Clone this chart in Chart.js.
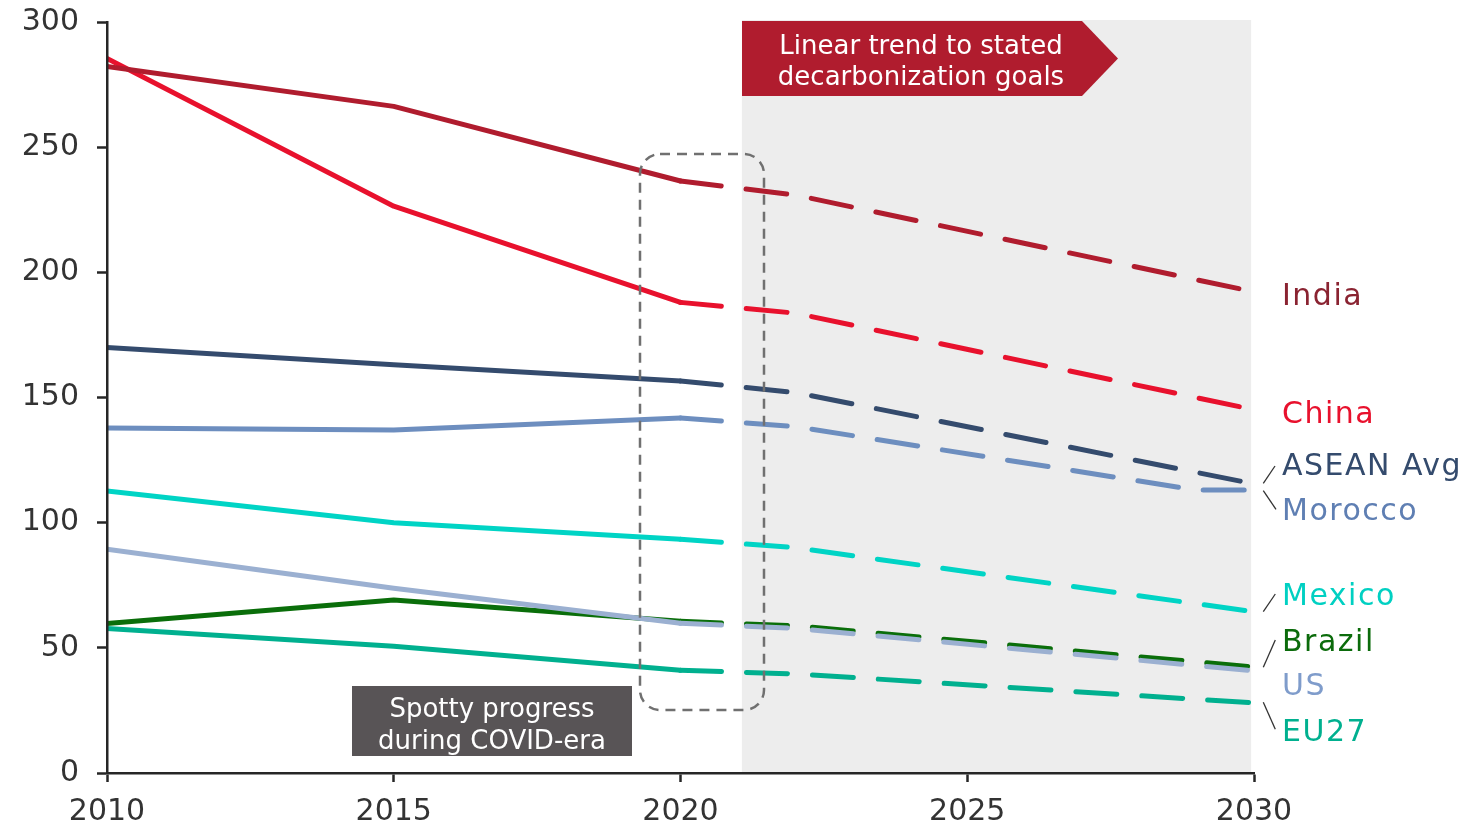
<!DOCTYPE html>
<html>
<head>
<meta charset="utf-8">
<script src="https://cdn.jsdelivr.net/npm/chart.js@4.4.0/dist/chart.umd.min.js"></script>
<style>
  html, body { margin: 0; padding: 0; background: #ffffff; overflow: hidden; }
  #wrap { position: relative; width: 1473px; height: 824px; }
</style>
</head>
<body>
<div id="wrap"><canvas id="c" width="1473" height="824"></canvas></div>
<script>
// Historical years and trend years
const histYears = [2010, 2015, 2020];
const trendYears = [2020, 2022, 2030];
const moroccoTrendYears = [2020, 2022, 2029, 2030];

// Historical values per country
const us = [89.4, 73.8, 59.8];
const brazil = [59.7, 69.1, 60.6];
const eu27 = [57.7, 50.6, 41.0];
const mexico = [112.7, 100.0, 93.4];
const morocco = [137.8, 137.0, 141.8];
const asean = [170.0, 163.1, 156.6];
const india = [282.2, 266.3, 236.5];
const china = [285.4, 226.4, 188.0];

// Linear trend to stated goals
const usTrend = [59.8, 57.8, 40.8];
const brazilTrend = [60.6, 58.8, 42.3];
const eu27Trend = [41.0, 39.6, 28.0];
const mexicoTrend = [93.4, 90.0, 64.4];
const moroccoTrend = [141.8, 138.4, 113.0, 113.0];
const aseanTrend = [156.6, 152.0, 115.5];
const indiaTrend = [236.5, 230.9, 192.2];
const chinaTrend = [188.0, 183.7, 145.1];

// Axis ticks
const xTicks = [2010, 2015, 2020, 2025, 2030];
const yTicks = [0, 50, 100, 150, 200, 250, 300];

const FONT = "'DejaVu Sans', sans-serif";

// Drawn first = on top
const series = [
  { name: 'US',        line: '#9BB0D1', width: 5, hist: us,      trend: usTrend,      tYears: trendYears },
  { name: 'Brazil',    line: '#0A6E0A', width: 5, hist: brazil,  trend: brazilTrend,  tYears: trendYears },
  { name: 'EU27',      line: '#00B08F', width: 5, hist: eu27,    trend: eu27Trend,    tYears: trendYears },
  { name: 'Mexico',    line: '#00D4C5', width: 5, hist: mexico,  trend: mexicoTrend,  tYears: trendYears },
  { name: 'Morocco',   line: '#6D8EBF', width: 5, hist: morocco, trend: moroccoTrend, tYears: moroccoTrendYears },
  { name: 'ASEAN Avg', line: '#344B6D', width: 5, hist: asean,   trend: aseanTrend,   tYears: trendYears },
  { name: 'India',     line: '#B01C2E', width: 5, hist: india,   trend: indiaTrend,   tYears: trendYears },
  { name: 'China',     line: '#E8112D', width: 5, hist: china,   trend: chinaTrend,   tYears: trendYears }
];

const toPoints = (xs, ys) => xs.map((x, i) => ({ x: x, y: ys[i] }));

const datasets = [];
series.forEach(s => {
  datasets.push({
    label: s.name,
    data: toPoints(histYears, s.hist),
    borderColor: s.line,
    borderWidth: s.width,
    borderCapStyle: 'round',
    borderJoinStyle: 'round',
    pointRadius: 0,
    tension: 0,
    fill: false
  });
  datasets.push({
    label: s.name + ' trend',
    data: toPoints(s.tYears, s.trend),
    borderColor: s.line,
    borderWidth: s.width,
    borderDash: [41, 25],
    borderCapStyle: 'round',
    borderJoinStyle: 'round',
    pointRadius: 0,
    tension: 0,
    fill: false
  });
});

// Country labels on the right with small connector strokes
const endLabels = [
  { name: 'India',     color: '#8A2331', x: 1282, y: 305 },
  { name: 'China',     color: '#E8112D', x: 1282, y: 422.5 },
  { name: 'ASEAN Avg', color: '#344B6D', x: 1282, y: 475 },
  { name: 'Morocco',   color: '#5F7FB3', x: 1282, y: 520 },
  { name: 'Mexico',    color: '#00D0C2', x: 1282, y: 605 },
  { name: 'Brazil',    color: '#0B6B0B', x: 1282, y: 650.5 },
  { name: 'US',        color: '#7F9CCB', x: 1282, y: 695 },
  { name: 'EU27',      color: '#00B08F', x: 1282, y: 740.5 }
];
const connectors = [
  [1263.3, 483.3, 1275, 466],
  [1263.3, 490.7, 1276, 509.3],
  [1263.3, 611.7, 1275.3, 594],
  [1263.3, 667.3, 1275.3, 640],
  [1263.3, 702.3, 1275.3, 729.3]
];

const annotations = {
  id: 'annotations',
  beforeDatasetsDraw(chart) {
    const { ctx, chartArea, scales } = chart;
    const xs = scales.x;
    ctx.save();
    // projection period shading
    const x0 = xs.getPixelForValue(2021.07);
    const x1 = xs.getPixelForValue(2029.95);
    ctx.fillStyle = '#EDEDED';
    ctx.fillRect(x0, chartArea.top - 2, x1 - x0, chartArea.bottom - chartArea.top + 2);
    ctx.restore();
  },
  afterDatasetsDraw(chart) {
    const { ctx } = chart;
    ctx.save();

    // dashed frame around the COVID years
    ctx.strokeStyle = '#707070';
    ctx.lineWidth = 2.5;
    ctx.setLineDash([10, 7]);
    ctx.beginPath();
    ctx.roundRect(640, 154, 124, 556, 20);
    ctx.stroke();
    ctx.setLineDash([]);

    // red arrow banner
    ctx.fillStyle = '#B01C2E';
    ctx.beginPath();
    ctx.moveTo(742, 21);
    ctx.lineTo(1082, 21);
    ctx.lineTo(1118, 58.5);
    ctx.lineTo(1082, 96);
    ctx.lineTo(742, 96);
    ctx.closePath();
    ctx.fill();
    ctx.fillStyle = '#FFFFFF';
    ctx.font = '26px ' + FONT;
    ctx.textAlign = 'center';
    ctx.textBaseline = 'alphabetic';
    ctx.fillText('Linear trend to stated', 921, 53.5);
    ctx.fillText('decarbonization goals', 921, 84.5);

    // gray note box
    ctx.fillStyle = '#585456';
    ctx.fillRect(352, 686, 280, 70);
    ctx.fillStyle = '#FFFFFF';
    ctx.fillText('Spotty progress', 492, 716.5);
    ctx.fillText('during COVID-era', 492, 749);

    // connectors
    ctx.strokeStyle = '#333333';
    ctx.lineWidth = 1.3;
    connectors.forEach(c => {
      ctx.beginPath();
      ctx.moveTo(c[0], c[1]);
      ctx.lineTo(c[2], c[3]);
      ctx.stroke();
    });

    // end labels
    ctx.textAlign = 'left';
    ctx.font = '30px ' + FONT;
    ctx.letterSpacing = '1.5px';
    endLabels.forEach(l => {
      ctx.fillStyle = l.color;
      ctx.fillText(l.name, l.x, l.y);
    });
    ctx.letterSpacing = '0px';
    ctx.restore();
  }
};

new Chart(document.getElementById('c'), {
  type: 'line',
  data: { datasets: datasets },
  options: {
    responsive: false,
    animation: false,
    devicePixelRatio: 1,
    layout: { padding: { top: 22, right: 219, bottom: 0, left: 0 } },
    plugins: { legend: { display: false }, tooltip: { enabled: false } },
    scales: {
      x: {
        type: 'linear',
        min: 2010,
        max: 2030,
        afterBuildTicks: s => { s.ticks = xTicks.map(v => ({ value: v })); },
        afterFit: s => { s.height = 51; s.paddingLeft = 0; s.paddingRight = 0; },
        grid: { display: true, drawOnChartArea: false, drawTicks: true, tickLength: 9, tickColor: '#262626', tickWidth: 2.5 },
        border: { display: true, color: '#262626', width: 2.5, z: 1 },
        ticks: {
          color: '#333333',
          font: { family: FONT, size: 30 },
          padding: 12,
          maxRotation: 0,
          autoSkip: false,
          callback: v => String(v)
        }
      },
      y: {
        type: 'linear',
        min: 0,
        max: 300,
        afterBuildTicks: s => { s.ticks = yTicks.map(v => ({ value: v })); },
        afterFit: s => { s.width = 107; s.paddingTop = 0; s.paddingBottom = 0; },
        grid: { display: true, drawOnChartArea: false, drawTicks: true, tickLength: 10, tickColor: '#262626', tickWidth: 2.5 },
        border: { display: true, color: '#262626', width: 2.5, z: 1 },
        ticks: {
          color: '#333333',
          font: { family: FONT, size: 30 },
          padding: 18,
          callback: v => String(v)
        }
      }
    }
  },
  plugins: [annotations]
});
</script>
</body>
</html>
